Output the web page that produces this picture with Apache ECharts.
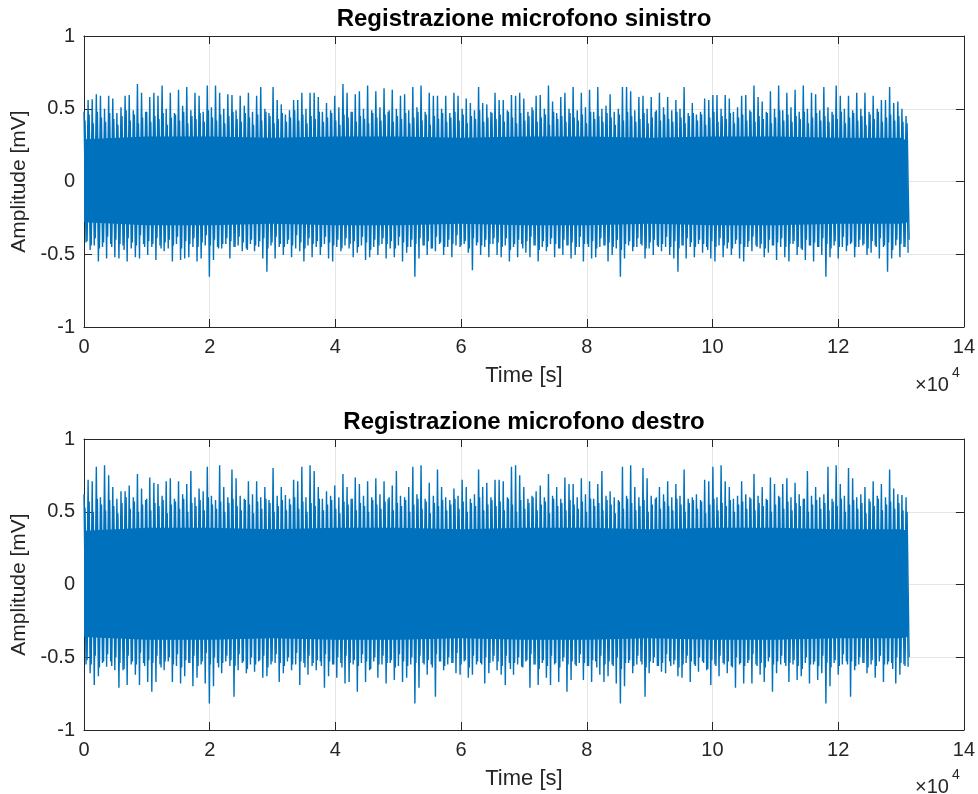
<!DOCTYPE html>
<html>
<head>
<meta charset="utf-8">
<script src="https://cdn.jsdelivr.net/npm/echarts@6/dist/echarts.min.js"></script>
<style>html,body{margin:0;padding:0;background:#fff}#c{width:978px;height:794px}</style>
</head>
<body>
<div id="c"></div>
<script>
// Sample spacing of the read-off envelope (samples)
const STEP = 654;
// Tick labels (x in units of 10^4 samples)
const xTicks = [0, 2, 4, 6, 8, 10, 12, 14];
const yTicks = [-1, -0.5, 0, 0.5, 1];
const titles = ['Registrazione microfono sinistro', 'Registrazione microfono destro'];

// Dense core of the signal
const coreT = [0, 10000, 20000, 30000, 40000, 50000, 60000, 70000, 80000, 90000, 100000, 110000, 120000, 130000, 131000];
const leftCoreUp = [0.29, 0.31, 0.31, 0.30, 0.31, 0.31, 0.30, 0.31, 0.31, 0.30, 0.31, 0.31, 0.30, 0.30, 0.28];
const leftCoreLo = [-0.28, -0.30, -0.30, -0.29, -0.30, -0.30, -0.29, -0.30, -0.30, -0.29, -0.30, -0.30, -0.29, -0.29, -0.28];
const rightCoreUp = [0.37, 0.39, 0.39, 0.38, 0.39, 0.39, 0.38, 0.39, 0.39, 0.38, 0.39, 0.39, 0.38, 0.38, 0.37];
const rightCoreLo = [-0.36, -0.38, -0.38, -0.37, -0.38, -0.38, -0.37, -0.38, -0.38, -0.37, -0.38, -0.38, -0.37, -0.37, -0.36];

// Local maxima / minima of the left microphone
const leftUp = [0.48,0.56,0.565,0.60,0.59,0.50,0.59,0.57,0.47,0.51,0.59,0.594,0.49,0.67,0.61,0.48,0.58,0.61,0.59,0.66,
0.50,0.61,0.47,0.63,0.52,0.65,0.49,0.61,0.59,0.48,0.66,0.51,0.66,0.61,0.50,0.60,0.594,0.49,0.59,0.52,
0.61,0.48,0.59,0.65,0.50,0.47,0.65,0.56,0.53,0.46,0.49,0.56,0.56,0.61,0.50,0.61,0.61,0.58,0.48,0.54,
0.49,0.59,0.51,0.67,0.61,0.48,0.60,0.62,0.50,0.66,0.49,0.62,0.51,0.64,0.48,0.63,0.50,0.59,0.60,0.49,
0.65,0.51,0.66,0.48,0.61,0.59,0.59,0.50,0.59,0.47,0.61,0.59,0.50,0.57,0.54,0.49,0.65,0.54,0.53,0.48,
0.61,0.56,0.56,0.49,0.594,0.59,0.61,0.57,0.48,0.51,0.59,0.594,0.50,0.66,0.55,0.47,0.58,0.61,0.50,0.65,
0.49,0.61,0.51,0.63,0.48,0.65,0.50,0.52,0.60,0.48,0.50,0.65,0.65,0.62,0.49,0.58,0.59,0.50,0.58,0.48,
0.61,0.51,0.58,0.49,0.56,0.50,0.65,0.47,0.54,0.46,0.48,0.57,0.56,0.594,0.594,0.50,0.594,0.57,0.48,0.51,
0.59,0.594,0.49,0.66,0.58,0.55,0.48,0.62,0.50,0.66,0.49,0.61,0.51,0.63,0.48,0.66,0.50,0.61,0.60,0.49,
0.65,0.51,0.48,0.66,0.59,0.50,0.59,0.49,0.61,0.50,0.61,0.48,0.59,0.50,0.56,0.56,0.65,0.54,0.55,0.50,0.45];
const leftLo = [-0.42,-0.47,-0.44,-0.55,-0.45,-0.53,-0.43,-0.52,-0.53,-0.44,-0.55,-0.46,-0.52,-0.53,-0.43,-0.505,-0.45,-0.54,-0.44,-0.48,
-0.46,-0.55,-0.43,-0.54,-0.53,-0.52,-0.45,-0.55,-0.53,-0.44,-0.654,-0.54,-0.45,-0.46,-0.43,-0.53,-0.45,-0.44,-0.48,-0.46,
-0.43,-0.48,-0.45,-0.53,-0.62,-0.44,-0.53,-0.45,-0.505,-0.43,-0.52,-0.46,-0.48,-0.55,-0.44,-0.52,-0.45,-0.505,-0.43,-0.53,
-0.55,-0.45,-0.48,-0.44,-0.46,-0.52,-0.49,-0.44,-0.54,-0.52,-0.45,-0.505,-0.43,-0.53,-0.46,-0.52,-0.44,-0.55,-0.49,-0.45,
-0.654,-0.53,-0.44,-0.505,-0.46,-0.48,-0.43,-0.505,-0.45,-0.52,-0.44,-0.45,-0.43,-0.49,-0.61,-0.44,-0.505,-0.45,-0.52,-0.43,
-0.505,-0.52,-0.44,-0.55,-0.45,-0.52,-0.43,-0.49,-0.52,-0.44,-0.55,-0.45,-0.48,-0.43,-0.52,-0.46,-0.505,-0.44,-0.53,-0.505,
-0.45,-0.55,-0.43,-0.53,-0.52,-0.45,-0.44,-0.55,-0.505,-0.46,-0.654,-0.53,-0.44,-0.48,-0.45,-0.43,-0.53,-0.46,-0.505,-0.44,
-0.48,-0.45,-0.505,-0.53,-0.62,-0.44,-0.53,-0.45,-0.52,-0.43,-0.49,-0.45,-0.53,-0.55,-0.44,-0.52,-0.46,-0.505,-0.43,-0.53,
-0.55,-0.45,-0.48,-0.44,-0.46,-0.52,-0.49,-0.44,-0.54,-0.45,-0.52,-0.55,-0.43,-0.505,-0.46,-0.54,-0.44,-0.55,-0.45,-0.505,
-0.654,-0.52,-0.44,-0.53,-0.45,-0.48,-0.43,-0.52,-0.45,-0.44,-0.505,-0.49,-0.44,-0.53,-0.45,-0.62,-0.53,-0.44,-0.52,-0.45,-0.49];
// Secondary (inner) maxima / minima of the left microphone
const leftUp2 = [0.42,0.46,0.40,0.48,0.44,0.41,0.47,0.43,0.39,0.45,0.49,0.42,0.46,0.40,0.44,0.48,0.41,0.45,0.43,0.47,
0.39,0.44,0.46,0.42,0.48,0.40,0.45,0.43,0.47,0.41,0.49,0.44,0.42,0.46,0.40,0.45,0.48,0.43,0.41,0.47,
0.44,0.39,0.46,0.42,0.48,0.45,0.40,0.43,0.47,0.41,0.44,0.49,0.42,0.46,0.40,0.45,0.43,0.48,0.41,0.44,
0.47,0.42,0.39,0.46,0.44,0.48,0.41,0.45,0.43,0.40,0.47,0.44,0.42,0.46,0.49,0.41,0.45,0.43,0.47,0.40,
0.44,0.48,0.42,0.46,0.39,0.45,0.43,0.47,0.41,0.44,0.48,0.42,0.46,0.40,0.45,0.43,0.49,0.41,0.44,0.47,
0.43,0.46,0.41,0.48,0.44,0.40,0.47,0.42,0.45,0.49,0.41,0.44,0.46,0.39,0.48,0.43,0.45,0.41,0.47,0.44,
0.42,0.46,0.40,0.48,0.43,0.45,0.41,0.47,0.44,0.39,0.46,0.42,0.48,0.45,0.41,0.43,0.47,0.40,0.44,0.49,
0.42,0.46,0.43,0.41,0.48,0.44,0.40,0.45,0.47,0.42,0.46,0.39,0.44,0.48,0.41,0.45,0.43,0.47,0.40,0.44,
0.46,0.42,0.48,0.41,0.45,0.43,0.47,0.40,0.44,0.49,0.42,0.46,0.41,0.45,0.43,0.48,0.40,0.44,0.47,0.42,
0.45,0.41,0.46,0.43,0.48,0.40,0.44,0.47,0.42,0.45,0.39,0.46,0.43,0.48,0.41,0.44,0.46,0.42,0.45,0.41,0.40];
const leftLo2 = [-0.41,-0.44,-0.39,-0.46,-0.42,-0.38,-0.45,-0.40,-0.43,-0.47,-0.39,-0.42,-0.44,-0.37,-0.45,-0.41,-0.43,-0.39,-0.46,-0.42,
-0.40,-0.44,-0.38,-0.46,-0.41,-0.43,-0.39,-0.45,-0.42,-0.37,-0.44,-0.40,-0.46,-0.43,-0.39,-0.41,-0.45,-0.38,-0.42,-0.47,
-0.40,-0.44,-0.41,-0.39,-0.46,-0.42,-0.38,-0.43,-0.45,-0.40,-0.44,-0.37,-0.42,-0.46,-0.39,-0.43,-0.41,-0.45,-0.38,-0.42,
-0.44,-0.40,-0.46,-0.39,-0.43,-0.41,-0.45,-0.38,-0.42,-0.47,-0.40,-0.44,-0.39,-0.43,-0.41,-0.46,-0.38,-0.42,-0.45,-0.40,
-0.43,-0.39,-0.44,-0.41,-0.46,-0.38,-0.42,-0.45,-0.40,-0.43,-0.37,-0.44,-0.41,-0.46,-0.39,-0.42,-0.44,-0.40,-0.43,-0.39,
-0.42,-0.45,-0.39,-0.47,-0.43,-0.40,-0.46,-0.41,-0.38,-0.44,-0.47,-0.41,-0.45,-0.39,-0.43,-0.46,-0.40,-0.44,-0.42,-0.45,
-0.38,-0.43,-0.45,-0.41,-0.46,-0.39,-0.44,-0.42,-0.45,-0.40,-0.47,-0.43,-0.41,-0.45,-0.39,-0.44,-0.46,-0.42,-0.40,-0.45,
-0.43,-0.38,-0.45,-0.41,-0.46,-0.44,-0.39,-0.42,-0.45,-0.40,-0.43,-0.47,-0.41,-0.45,-0.39,-0.44,-0.42,-0.46,-0.40,-0.43,
-0.45,-0.41,-0.38,-0.45,-0.43,-0.46,-0.40,-0.44,-0.42,-0.39,-0.45,-0.43,-0.41,-0.45,-0.47,-0.40,-0.44,-0.42,-0.45,-0.39,
-0.43,-0.46,-0.41,-0.45,-0.38,-0.44,-0.42,-0.45,-0.40,-0.43,-0.46,-0.41,-0.45,-0.39,-0.44,-0.42,-0.47,-0.40,-0.43,-0.45,-0.40];

// Local maxima / minima of the right microphone
const rightUp = [0.62,0.72,0.71,0.81,0.60,0.82,0.75,0.67,0.59,0.64,0.64,0.68,0.60,0.76,0.66,0.58,0.735,0.70,0.69,0.61,
0.71,0.73,0.59,0.71,0.62,0.69,0.78,0.60,0.66,0.64,0.81,0.61,0.58,0.82,0.67,0.60,0.79,0.73,0.61,0.59,
0.71,0.62,0.71,0.60,0.67,0.58,0.80,0.61,0.67,0.615,0.59,0.72,0.71,0.81,0.60,0.82,0.78,0.67,0.59,0.64,
0.61,0.68,0.60,0.76,0.67,0.59,0.735,0.69,0.61,0.71,0.60,0.73,0.62,0.71,0.59,0.68,0.78,0.61,0.60,0.67,
0.81,0.62,0.82,0.59,0.70,0.61,0.79,0.67,0.60,0.58,0.66,0.61,0.72,0.67,0.59,0.62,0.79,0.67,0.70,0.60,
0.72,0.72,0.71,0.60,0.81,0.82,0.75,0.67,0.59,0.61,0.64,0.68,0.60,0.76,0.61,0.67,0.59,0.735,0.69,0.69,
0.60,0.73,0.62,0.71,0.59,0.69,0.78,0.61,0.64,0.60,0.58,0.81,0.61,0.82,0.67,0.60,0.80,0.73,0.61,0.59,
0.67,0.62,0.71,0.60,0.69,0.61,0.79,0.59,0.60,0.62,0.58,0.72,0.71,0.81,0.60,0.82,0.71,0.67,0.59,0.61,
0.71,0.62,0.60,0.76,0.61,0.67,0.59,0.735,0.69,0.61,0.69,0.73,0.60,0.70,0.62,0.59,0.78,0.61,0.67,0.60,
0.62,0.81,0.59,0.82,0.69,0.61,0.80,0.73,0.60,0.62,0.67,0.59,0.71,0.61,0.69,0.60,0.79,0.66,0.62,0.615,0.60];
const rightLo = [-0.55,-0.61,-0.69,-0.63,-0.54,-0.565,-0.53,-0.59,-0.71,-0.59,-0.69,-0.55,-0.62,-0.69,-0.54,-0.67,-0.737,-0.67,-0.55,-0.59,
-0.53,-0.67,-0.56,-0.68,-0.63,-0.54,-0.70,-0.64,-0.55,-0.68,-0.817,-0.70,-0.54,-0.61,-0.53,-0.56,-0.771,-0.59,-0.54,-0.61,
-0.55,-0.60,-0.53,-0.64,-0.63,-0.55,-0.54,-0.67,-0.61,-0.53,-0.59,-0.55,-0.69,-0.54,-0.62,-0.56,-0.59,-0.53,-0.71,-0.63,
-0.55,-0.64,-0.54,-0.68,-0.67,-0.55,-0.737,-0.54,-0.67,-0.59,-0.53,-0.64,-0.55,-0.68,-0.54,-0.656,-0.56,-0.67,-0.64,-0.55,
-0.817,-0.71,-0.54,-0.62,-0.55,-0.771,-0.53,-0.59,-0.55,-0.54,-0.61,-0.62,-0.53,-0.64,-0.62,-0.55,-0.54,-0.68,-0.61,-0.53,
-0.59,-0.62,-0.69,-0.54,-0.62,-0.55,-0.565,-0.53,-0.71,-0.55,-0.69,-0.54,-0.64,-0.69,-0.55,-0.67,-0.53,-0.737,-0.656,-0.55,
-0.54,-0.656,-0.56,-0.67,-0.53,-0.62,-0.67,-0.63,-0.55,-0.68,-0.817,-0.70,-0.54,-0.61,-0.55,-0.53,-0.771,-0.61,-0.54,-0.56,
-0.60,-0.61,-0.53,-0.55,-0.63,-0.64,-0.54,-0.67,-0.55,-0.60,-0.53,-0.59,-0.69,-0.55,-0.63,-0.54,-0.61,-0.56,-0.71,-0.55,
-0.68,-0.54,-0.68,-0.55,-0.62,-0.67,-0.53,-0.737,-0.61,-0.55,-0.54,-0.67,-0.55,-0.656,-0.63,-0.54,-0.68,-0.55,-0.656,-0.61,
-0.817,-0.70,-0.54,-0.62,-0.55,-0.53,-0.771,-0.59,-0.55,-0.54,-0.61,-0.55,-0.64,-0.53,-0.67,-0.55,-0.54,-0.68,-0.62,-0.55,-0.565];
// Secondary (inner) maxima / minima of the right microphone
const rightUp2 = [0.53,0.57,0.50,0.59,0.55,0.51,0.58,0.54,0.49,0.56,0.60,0.52,0.57,0.50,0.55,0.59,0.51,0.56,0.54,0.58,
0.49,0.55,0.57,0.52,0.59,0.50,0.56,0.54,0.58,0.51,0.60,0.55,0.52,0.57,0.50,0.56,0.59,0.54,0.51,0.58,
0.55,0.49,0.57,0.52,0.59,0.56,0.50,0.54,0.58,0.51,0.55,0.60,0.52,0.57,0.50,0.56,0.54,0.59,0.51,0.55,
0.58,0.52,0.49,0.57,0.55,0.59,0.51,0.56,0.54,0.50,0.58,0.55,0.52,0.57,0.60,0.51,0.56,0.54,0.58,0.50,
0.55,0.59,0.52,0.57,0.49,0.56,0.54,0.58,0.51,0.55,0.59,0.52,0.57,0.50,0.56,0.54,0.60,0.51,0.55,0.58,
0.54,0.57,0.51,0.59,0.55,0.50,0.58,0.52,0.56,0.60,0.51,0.55,0.57,0.49,0.59,0.54,0.56,0.51,0.58,0.55,
0.52,0.57,0.50,0.59,0.54,0.56,0.51,0.58,0.55,0.49,0.57,0.52,0.59,0.56,0.51,0.54,0.58,0.50,0.55,0.60,
0.52,0.57,0.54,0.51,0.59,0.55,0.50,0.56,0.58,0.52,0.57,0.49,0.55,0.59,0.51,0.56,0.54,0.58,0.50,0.55,
0.57,0.52,0.59,0.51,0.56,0.54,0.58,0.50,0.55,0.60,0.52,0.57,0.51,0.56,0.54,0.59,0.50,0.55,0.58,0.52,
0.56,0.51,0.57,0.54,0.59,0.50,0.55,0.58,0.52,0.56,0.49,0.57,0.54,0.59,0.51,0.55,0.57,0.52,0.56,0.51,0.50];
const rightLo2 = [-0.52,-0.55,-0.49,-0.57,-0.53,-0.48,-0.56,-0.50,-0.54,-0.58,-0.49,-0.53,-0.55,-0.47,-0.56,-0.52,-0.54,-0.49,-0.57,-0.53,
-0.50,-0.55,-0.48,-0.57,-0.52,-0.54,-0.49,-0.56,-0.53,-0.47,-0.55,-0.50,-0.57,-0.54,-0.49,-0.52,-0.56,-0.48,-0.53,-0.58,
-0.50,-0.55,-0.52,-0.49,-0.57,-0.53,-0.48,-0.54,-0.56,-0.50,-0.55,-0.47,-0.53,-0.57,-0.49,-0.54,-0.52,-0.56,-0.48,-0.53,
-0.55,-0.50,-0.57,-0.49,-0.54,-0.52,-0.56,-0.48,-0.53,-0.58,-0.50,-0.55,-0.49,-0.54,-0.52,-0.57,-0.48,-0.53,-0.56,-0.50,
-0.54,-0.49,-0.55,-0.52,-0.57,-0.48,-0.53,-0.56,-0.50,-0.54,-0.47,-0.55,-0.52,-0.57,-0.49,-0.53,-0.55,-0.50,-0.54,-0.49,
-0.53,-0.56,-0.49,-0.58,-0.54,-0.50,-0.57,-0.52,-0.48,-0.55,-0.58,-0.52,-0.56,-0.49,-0.54,-0.57,-0.50,-0.55,-0.53,-0.56,
-0.48,-0.54,-0.56,-0.52,-0.57,-0.49,-0.55,-0.53,-0.56,-0.50,-0.58,-0.54,-0.52,-0.56,-0.49,-0.55,-0.57,-0.53,-0.50,-0.56,
-0.54,-0.48,-0.56,-0.52,-0.57,-0.55,-0.49,-0.53,-0.56,-0.50,-0.54,-0.58,-0.52,-0.56,-0.49,-0.55,-0.53,-0.57,-0.50,-0.54,
-0.56,-0.52,-0.48,-0.56,-0.54,-0.57,-0.50,-0.55,-0.53,-0.49,-0.56,-0.54,-0.52,-0.56,-0.58,-0.50,-0.55,-0.53,-0.56,-0.49,
-0.54,-0.57,-0.52,-0.56,-0.48,-0.55,-0.53,-0.56,-0.50,-0.54,-0.57,-0.52,-0.56,-0.49,-0.55,-0.53,-0.58,-0.50,-0.54,-0.56,-0.50];

const BLUE = '#0072BD';
const AX = '#262626';
const FONT = '"Liberation Sans", Arial, Helvetica, sans-serif';

function zig(up, lo, off) {
  const d = [];
  for (let i = 0; i < up.length; i++) {
    d.push([i * STEP + off, up[i]]);
    d.push([i * STEP + off + STEP / 2, lo[i]]);
  }
  return d;
}
function pairs(xs, ys) { return xs.map((x, k) => [x, ys[k]]); }

const grids = [
  { left: 84, top: 36, width: 880, height: 291 },
  { left: 84, top: 439, width: 880, height: 291 }
];

const xAxes = [], yAxes = [];
grids.forEach((g, gi) => {
  const base = {
    type: 'value', gridIndex: gi, min: 0, max: 140000, interval: 20000,
    axisLine: { show: true, onZero: false, lineStyle: { color: AX, width: 1 } },
    axisTick: { show: true, inside: true, length: 8, lineStyle: { color: AX } }
  };
  xAxes.push(Object.assign({}, base, {
    position: 'bottom',
    name: 'Time [s]', nameLocation: 'middle', nameGap: 38,
    nameTextStyle: { fontFamily: FONT, fontSize: 22, color: AX },
    axisLabel: { show: true, margin: 10, fontFamily: FONT, fontSize: 20, color: AX,
      formatter: v => String(xTicks[Math.round(v / 20000)]) },
    splitLine: { show: true, lineStyle: { color: '#e5e5e5', width: 1 } }
  }));
  xAxes.push(Object.assign({}, base, {
    position: 'top', axisLabel: { show: false }, splitLine: { show: false }
  }));
  const ybase = {
    type: 'value', gridIndex: gi, min: -1, max: 1, interval: 0.5,
    axisLine: { show: true, onZero: false, lineStyle: { color: AX, width: 1 } },
    axisTick: { show: true, inside: true, length: 8, lineStyle: { color: AX } }
  };
  yAxes.push(Object.assign({}, ybase, {
    position: 'left',
    name: 'Amplitude [mV]', nameLocation: 'middle', nameGap: 51, nameRotate: 90,
    nameTextStyle: { fontFamily: FONT, fontSize: 21, color: AX },
    axisLabel: { show: true, margin: 9, fontFamily: FONT, fontSize: 20, color: AX,
      formatter: v => String(yTicks[Math.round((v + 1) / 0.5)]) },
    splitLine: { show: true, lineStyle: { color: '#e5e5e5', width: 1 } }
  }));
  yAxes.push(Object.assign({}, ybase, {
    position: 'right', axisLabel: { show: false }, splitLine: { show: false }
  }));
});

function areaSeries(gi, ys, origin) {
  return {
    type: 'line', xAxisIndex: gi * 2, yAxisIndex: gi * 2, data: pairs(coreT, ys),
    symbol: 'none', silent: true, animation: false,
    lineStyle: { width: 0 }, areaStyle: { color: BLUE, opacity: 1, origin: origin }, z: 2
  };
}
function zigSeries(gi, up, lo, off) {
  return {
    type: 'line', xAxisIndex: gi * 2, yAxisIndex: gi * 2, data: zig(up, lo, off),
    symbol: 'none', silent: true, animation: false, sampling: null,
    lineStyle: { color: BLUE, width: 1.4 }, z: 3
  };
}

const series = [
  areaSeries(0, leftCoreUp, -0.1), areaSeries(0, leftCoreLo, 0.1),
  zigSeries(0, leftUp, leftLo, 0), zigSeries(0, leftUp2, leftLo2, STEP / 4),
  areaSeries(1, rightCoreUp, -0.1), areaSeries(1, rightCoreLo, 0.1),
  zigSeries(1, rightUp, rightLo, 0), zigSeries(1, rightUp2, rightLo2, STEP / 4)
];

const graphic = [];
[[19, 385], [422, 787]].forEach((p, gi) => {
  graphic.push({ type: 'text', x: 524, y: p[0], style: { text: titles[gi], font: 'bold 24px ' + FONT, fill: '#000', align: 'center', verticalAlign: 'middle' } });
  graphic.push({ type: 'text', x: 915, y: p[1], style: { text: '\u00d710', font: '20px ' + FONT, fill: AX, align: 'left', verticalAlign: 'middle' } });
  graphic.push({ type: 'text', x: 952, y: p[1] - 12, style: { text: '4', font: '14px ' + FONT, fill: AX, align: 'left', verticalAlign: 'middle' } });
});

const chart = echarts.init(document.getElementById('c'), null, { renderer: 'canvas' });
chart.setOption({
  animation: false,
  backgroundColor: '#fff',
  grid: grids,
  xAxis: xAxes,
  yAxis: yAxes,
  series: series,
  graphic: graphic
});
</script>
</body>
</html>
